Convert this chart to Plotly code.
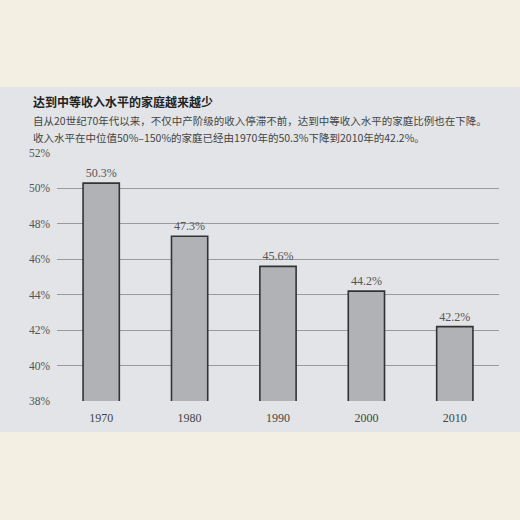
import plotly.graph_objects as go

years = ["1970", "1980", "1990", "2000", "2010"]
shares = [50.3, 47.3, 45.6, 44.2, 42.2]
y_ticks = [38, 40, 42, 44, 46, 48, 50, 52]
y_tick_labels = ["38%", "40%", "42%", "44%", "46%", "48%", "50%", "52%"]

title_text = "达到中等收入水平的家庭越来越少"
sub_line1 = "自从20世纪70年代以来，不仅中产阶级的收入停滞不前，达到中等收入水平的家庭比例也在下降。"
sub_line2 = "收入水平在中位值50%–150%的家庭已经由1970年的50.3%下降到2010年的42.2%。"

W, H = 520, 520
L, R, T, B = 57, 21, 153, 119
pw, ph = W - L - R, H - T - B

def px(x):
    return (x - L) / pw

def py(y):
    return (H - B - y) / ph

num_font = "Liberation Serif, Noto Sans CJK SC, serif"
cjk_font = "Noto Sans CJK SC, sans-serif"

fig = go.Figure()
fig.add_trace(go.Bar(
    x=list(range(len(years))),
    y=shares,
    text=[f"{v:.1f}%" for v in shares],
    textposition="outside",
    textfont=dict(family=num_font, size=12, color="#555555"),
    cliponaxis=False,
    marker=dict(color="#b0b2b5", line=dict(color="#333333", width=1.6)),
    width=0.41,
    hoverinfo="skip",
))

fig.update_layout(
    width=W, height=H,
    margin=dict(l=L, r=R, t=T, b=B),
    paper_bgcolor="#f3efe3",
    plot_bgcolor="rgba(0,0,0,0)",
    showlegend=False,
    xaxis=dict(
        range=[-0.5, 4.5],
        tickmode="array",
        tickvals=list(range(len(years))),
        ticktext=years,
        showgrid=False, zeroline=False, showline=False,
        ticklabelstandoff=8,
        tickfont=dict(family=num_font, size=12, color="#444444"),
        fixedrange=True,
    ),
    yaxis=dict(
        range=[38, 52],
        tickmode="array",
        tickvals=y_ticks,
        ticktext=y_tick_labels,
        showgrid=True, gridcolor="#9a9a9a", gridwidth=1,
        zeroline=False, showline=False,
        ticklabelstandoff=6,
        tickfont=dict(family=num_font, size=11.5, color="#555555"),
        fixedrange=True,
    ),
    shapes=[dict(
        type="rect", xref="paper", yref="paper",
        x0=px(0), x1=px(W), y0=py(432), y1=py(87),
        fillcolor="#e2e4e7", line=dict(width=0), layer="below",
    )],
    annotations=[
        dict(text=f"<b>{title_text}</b>", xref="paper", yref="paper",
             x=px(31), y=py(101), xanchor="left", yanchor="middle",
             showarrow=False, font=dict(family=cjk_font, size=12, color="#222222")),
        dict(text=sub_line1, xref="paper", yref="paper",
             x=px(31), y=py(120), xanchor="left", yanchor="middle",
             showarrow=False, font=dict(family=cjk_font, size=10.5, color="#444444")),
        dict(text=sub_line2, xref="paper", yref="paper",
             x=px(31), y=py(137), xanchor="left", yanchor="middle",
             showarrow=False, font=dict(family=cjk_font, size=10.5, color="#444444")),
    ],
)

fig.write_html("out.html")
